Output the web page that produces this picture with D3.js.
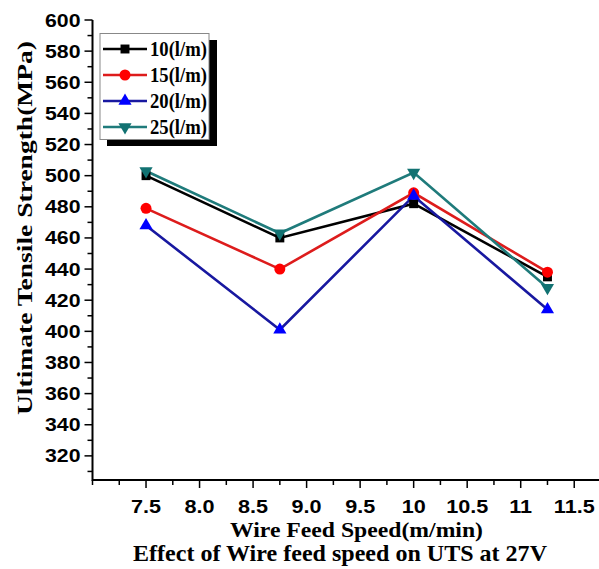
<!DOCTYPE html>
<html>
<head>
<meta charset="utf-8">
<script src="https://cdn.jsdelivr.net/npm/d3@7"></script>
<style>
  body { margin: 0; background: #fff; }
  svg { display: block; }
</style>
</head>
<body>
<svg id="chart" width="599" height="569"></svg>
<script>
// wire feed speed (m/min)
var speeds = [7.5, 8.75, 10, 11.25];
// UTS (MPa) per shielding gas flow rate
var uts10 = [500, 460, 482, 435];
var uts15 = [479, 440, 489, 438];
var uts20 = [468, 401, 487, 414];
var uts25 = [503, 463, 502, 428];
var seriesNames = ["10(l/m)", "15(l/m)", "20(l/m)", "25(l/m)"];
var xTickLabels = ["7.5", "8.0", "8.5", "9.0", "9.5", "10", "10.5", "11", "11.5"];

var svg = d3.select("#chart");

var scX = d3.scaleLinear().domain([7, 11.75]).range([92.5, 601]);
var scY = d3.scaleLinear().domain([304.5, 600]).range([480, 20]);

var series = [
  {name: seriesNames[0], vals: uts10, line: "#000000", fill: "#000000", sym: d3.symbolSquare, size: 80, rot: 0},
  {name: seriesNames[1], vals: uts15, line: "#dd1c1c", fill: "#ff0000", sym: d3.symbolCircle, size: 95, rot: 0},
  {name: seriesNames[2], vals: uts20, line: "#1818a0", fill: "#0000ff", sym: d3.symbolTriangle, size: 75, rot: 0},
  {name: seriesNames[3], vals: uts25, line: "#1f7b7b", fill: "#127272", sym: d3.symbolTriangle, size: 75, rot: 180}
];

// axes
var majX = d3.range(7.5, 11.51, 0.5);
var minX = d3.range(7, 11.76, 0.25);
var gx = svg.append("g").attr("transform", "translate(0,480)");
gx.append("line").attr("x1", scX(7)).attr("x2", 599).attr("stroke", "#000").attr("stroke-width", 2);
gx.selectAll(".mn").data(minX).enter().append("line")
  .attr("x1", d => scX(d)).attr("x2", d => scX(d))
  .attr("y1", 0).attr("y2", d => (Math.abs(d * 2 - Math.round(d * 2)) < 1e-6 && d > 7.1) ? 8 : 5)
  .attr("stroke", "#000").attr("stroke-width", 1.5);
gx.selectAll(".lb").data(majX).enter().append("text")
  .attr("transform", d => "translate(" + scX(d) + ",33) scale(1.2,1)")
  .attr("text-anchor", "middle")
  .attr("font-family", "Liberation Sans, Arial, sans-serif")
  .attr("font-weight", "bold").attr("font-size", 18)
  .text((d, i) => xTickLabels[i]);

var majY = d3.range(320, 601, 20);
var minY = d3.range(310, 601, 10);
var gy = svg.append("g").attr("transform", "translate(92.5,0)");
gy.append("line").attr("y1", scY(600)).attr("y2", 481).attr("stroke", "#000").attr("stroke-width", 2);
gy.selectAll(".mn").data(minY).enter().append("line")
  .attr("y1", d => scY(d)).attr("y2", d => scY(d))
  .attr("x1", 0).attr("x2", d => d % 20 === 0 ? -8 : -5)
  .attr("stroke", "#000").attr("stroke-width", 1.5);
gy.selectAll(".lb").data(majY).enter().append("text")
  .attr("transform", d => "translate(-12," + (scY(d) + 6.5) + ") scale(1.15,1)")
  .attr("text-anchor", "end")
  .attr("font-family", "Liberation Sans, Arial, sans-serif")
  .attr("font-weight", "bold").attr("font-size", 18.5)
  .text(d => d);

// lines and markers
var lnMkr = d3.line().x((d, i) => scX(speeds[i])).y(d => scY(d));
series.forEach(function(s) {
  svg.append("path").attr("d", lnMkr(s.vals))
    .attr("fill", "none").attr("stroke", s.line).attr("stroke-width", 2.6);
});
series.forEach(function(s) {
  svg.selectAll(null).data(s.vals).enter().append("path")
    .attr("d", d3.symbol().type(s.sym).size(s.size))
    .attr("transform", (d, i) => "translate(" + scX(speeds[i]) + "," + scY(d) + ") rotate(" + s.rot + ")")
    .attr("fill", s.fill);
});

// legend
var lg = svg.append("g");
lg.append("rect").attr("x", 107).attr("y", 40).attr("width", 110).attr("height", 106).attr("fill", "#000");
lg.append("rect").attr("x", 100).attr("y", 33.5).attr("width", 109).attr("height", 106)
  .attr("fill", "#fff").attr("stroke", "#888").attr("stroke-width", 1);
series.forEach(function(s, i) {
  var yy = 49 + i * 26;
  lg.append("line").attr("x1", 103).attr("x2", 147).attr("y1", yy).attr("y2", yy)
    .attr("stroke", s.line).attr("stroke-width", 2.6);
  lg.append("path").attr("d", d3.symbol().type(s.sym).size(s.size))
    .attr("transform", "translate(125," + yy + ") rotate(" + s.rot + ")")
    .attr("fill", s.fill);
  lg.append("text").attr("x", 150).attr("y", yy + 7)
    .attr("font-family", "Liberation Serif, Times New Roman, serif")
    .attr("font-weight", "bold").attr("font-size", 20)
    .attr("textLength", 57).attr("lengthAdjust", "spacingAndGlyphs")
    .text(s.name);
});

// titles
svg.append("text")
  .attr("transform", "translate(32,228) rotate(-90)")
  .attr("text-anchor", "middle")
  .attr("font-family", "Liberation Serif, Times New Roman, serif")
  .attr("font-weight", "bold").attr("font-size", 22)
  .attr("textLength", 374).attr("lengthAdjust", "spacingAndGlyphs")
  .text("Ultimate Tensile Strength(MPa)");

svg.append("text")
  .attr("x", 230).attr("y", 537)
  .attr("font-family", "Liberation Serif, Times New Roman, serif")
  .attr("font-weight", "bold").attr("font-size", 22)
  .attr("textLength", 253).attr("lengthAdjust", "spacingAndGlyphs")
  .text("Wire Feed Speed(m/min)");

svg.append("text")
  .attr("x", 133).attr("y", 561)
  .attr("font-family", "Liberation Serif, Times New Roman, serif")
  .attr("font-weight", "bold").attr("font-size", 23)
  .attr("textLength", 414).attr("lengthAdjust", "spacingAndGlyphs")
  .text("Effect of Wire feed speed on UTS at 27V");
</script>
</body>
</html>
